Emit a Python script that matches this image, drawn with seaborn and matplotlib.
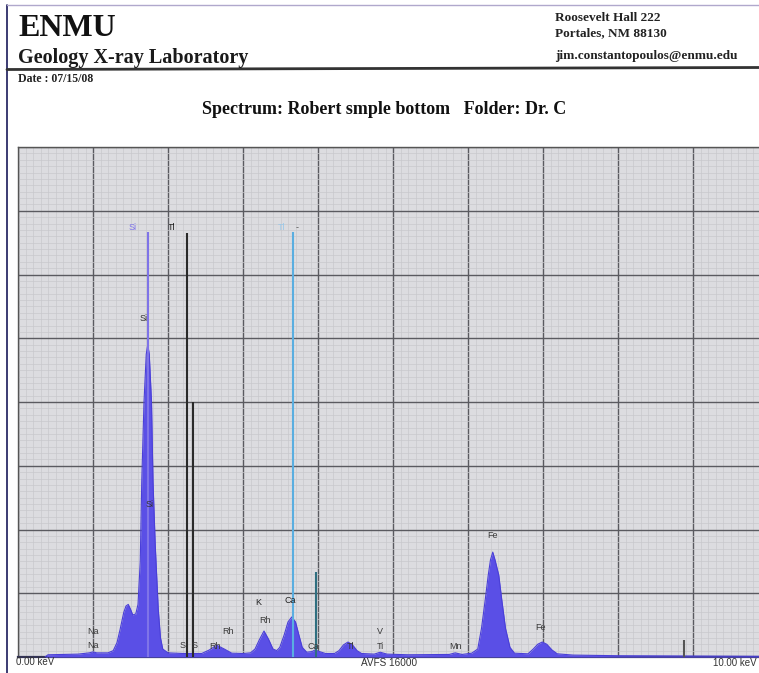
import numpy as np
import pandas as pd
import matplotlib.pyplot as plt
import seaborn as sns
from matplotlib.lines import Line2D
from matplotlib.ticker import MultipleLocator

sns.set_style("white")
plt.rcParams['font.family'] = ['Liberation Serif', 'DejaVu Serif']

# spectrum (keV, counts; AVFS 16000 = full scale)
energy = [0.36, 0.40, 0.80, 0.95, 1.00, 1.05, 1.20, 1.27, 1.32, 1.36, 1.41, 1.44,
          1.47, 1.50, 1.53, 1.57, 1.60, 1.63, 1.65, 1.68, 1.71, 1.73, 1.75, 1.78,
          1.80, 1.83, 1.87, 1.90, 1.93, 2.00, 2.20, 2.45, 2.55, 2.65, 2.75, 2.85,
          3.00, 3.10, 3.16, 3.22, 3.28, 3.34, 3.40, 3.45, 3.49, 3.55, 3.60, 3.65,
          3.70, 3.75, 3.79, 3.85, 3.92, 3.96, 4.02, 4.10, 4.22, 4.28, 4.34, 4.40,
          4.46, 4.52, 4.58, 4.75, 4.83, 4.92, 5.20, 5.75, 5.83, 5.92, 6.05, 6.13,
          6.18, 6.23, 6.27, 6.30, 6.33, 6.36, 6.41, 6.45, 6.50, 6.56, 6.62, 6.80,
          6.87, 6.93, 6.99, 7.05, 7.12, 7.19, 7.40, 8.00, 9.00, 10.0]
counts = [0, 70, 90, 130, 160, 130, 130, 200, 450, 850, 1400, 1600,
          1650, 1500, 1320, 1350, 1650, 3000, 5500, 8000, 9500, 9800, 9500, 8000,
          5500, 3500, 1500, 600, 250, 130, 110, 110, 220, 370, 250, 120,
          110, 130, 250, 550, 815, 560, 250, 200, 300, 700, 1100, 1255,
          1100, 650, 300, 150, 170, 220, 170, 110, 110, 200, 380, 470,
          380, 200, 110, 90, 150, 90, 70, 80, 130, 80, 120, 250,
          900, 1800, 2570, 3050, 3290, 3050, 2570, 1800, 900, 300, 120, 100,
          250, 400, 470, 400, 220, 100, 60, 40, 30, 20]

# element marker lines
marker_kev = [1.73, 2.25, 2.33, 3.67, 3.97, 8.88]
marker_top = [13330, 13300, 8000, 13330, 2670, 530]
marker_col = ["#7f74e8", "#2a2a2a", "#2a2a2a", "#5aaee0", "#2f6f80", "#555555"]

# peak labels (text, keV, counts, colour)
lab_text = ["Na", "Na", "Si", "Tl", "Tl", "-", "Si", "Si", "S", "S", "Rh", "Rh",
            "K", "Rh", "Ca", "Ca", "Tl", "V", "Ti", "Mn", "Fe", "Fe"]
lab_kev = [1.00, 1.00, 1.53, 2.05, 3.51, 3.72, 1.68, 1.75, 2.19, 2.36, 2.80, 2.63,
           3.21, 3.29, 3.63, 3.93, 4.43, 4.83, 4.83, 5.83, 6.33, 6.97]
lab_cnt = [785, 375, 13490, 13490, 13460, 13460, 10635, 4770, 375, 375, 785, 345,
           1695, 1160, 1757, 314, 345, 785, 345, 314, 3827, 941]
lab_col = ["#3a3a3a", "#3a3a3a", "#7f74e8", "#222222", "#9cc8e8", "#555555",
           "#333333", "#333333", "#3a3a3a", "#3a3a3a", "#3a3a3a", "#3a3a3a",
           "#222222", "#3a3a3a", "#222222", "#3a3a3a", "#3a3a3a", "#3a3a3a",
           "#3a3a3a", "#3a3a3a", "#3a3a3a", "#3a3a3a"]

df = pd.DataFrame({"keV": energy, "counts": counts})

W, H = 759, 673
fig = plt.figure(figsize=(W / 100, H / 100), dpi=100)
fig.patch.set_facecolor("white")

# plot area: 0..10 keV spans 750 px, so it runs past the right edge
ax = fig.add_axes([18 / W, (H - 657) / H, 750 / W, 510 / H])
ax.set_facecolor("#dcdce0")
ax.set_xlim(0, 10)
ax.set_ylim(0, 16000)
ax.xaxis.set_major_locator(MultipleLocator(1))
ax.xaxis.set_minor_locator(MultipleLocator(0.1))
ax.yaxis.set_major_locator(MultipleLocator(2000))
ax.yaxis.set_minor_locator(MultipleLocator(200))
ax.grid(which="minor", color="#c8c8cd", lw=0.5)
ax.grid(which="major", color="#5a5a60", lw=1.0)
ax.set_axisbelow(True)
ax.tick_params(which="both", length=0, labelbottom=False, labelleft=False)
for s in ax.spines.values():
    s.set_color("#555555")
    s.set_linewidth(1.0)
ax.spines["bottom"].set_color("#333355")
ax.spines["bottom"].set_linewidth(1.6)

ax.fill_between(df["keV"], df["counts"], color="#5a4fe6", lw=0, zorder=3)
sns.lineplot(data=df, x="keV", y="counts", ax=ax, color="#4a3fd8", lw=0.8,
             zorder=4, legend=False)
ax.vlines(marker_kev, 0, marker_top, colors=marker_col, lw=1.5, zorder=5)
for t, x, y, c in zip(lab_text, lab_kev, lab_cnt, lab_col):
    ax.text(x, y, t, fontsize=6.5, color=c, ha="center", va="center",
            family=["Liberation Sans", "DejaVu Sans"], zorder=6)
ax.set_xlabel("")
ax.set_ylabel("")

# page header
fig.text(18 / W, 1 - 36 / H, "ENMU", fontsize=23, weight="bold", color="#111111")
fig.text(18 / W, 1 - 63 / H, "Geology X-ray Laboratory", fontsize=14.5,
         weight="bold", color="#1a1a1a")
fig.text(18 / W, 1 - 82 / H, "Date : 07/15/08", fontsize=8.5, weight="bold",
         color="#222222")
fig.text(555 / W, 1 - 21 / H, "Roosevelt Hall 222", fontsize=9.5, weight="bold",
         color="#222222")
fig.text(555 / W, 1 - 36 / H, "Portales, NM 88130", fontsize=9.5, weight="bold",
         color="#222222")
fig.text(555 / W, 1 - 59 / H, "jim.constantopoulos@enmu.edu", fontsize=9.5,
         weight="bold", color="#222222")
fig.text(384 / W, 1 - 114 / H, "Spectrum: Robert smple bottom   Folder: Dr. C",
         fontsize=13, weight="bold", ha="center", va="baseline", color="#111111")

# footer labels
sans = ["Liberation Sans", "DejaVu Sans"]
fig.text(16 / W, 1 - 662 / H, "0.00 keV", fontsize=7, va="center",
         family=sans, color="#333333")
fig.text(389 / W, 1 - 663 / H, "AVFS 16000", fontsize=7.2, va="center",
         ha="center", family=sans, color="#333333")
fig.text(757 / W, 1 - 663 / H, "10.00 keV", fontsize=7, va="center",
         ha="right", family=sans, color="#333333")

# page border and header rule
fig.add_artist(Line2D([7 / W, 7 / W], [0, 1 - 5 / H], color="#1a1a5a", lw=1.2))
fig.add_artist(Line2D([7 / W, 1], [1 - 5 / H, 1 - 5 / H], color="#b0a8cc", lw=1.0))
fig.add_artist(Line2D([7 / W, 1], [1 - 69.5 / H, 1 - 67.5 / H], color="#333333", lw=2.0))

fig.savefig("out.png", dpi=100)
